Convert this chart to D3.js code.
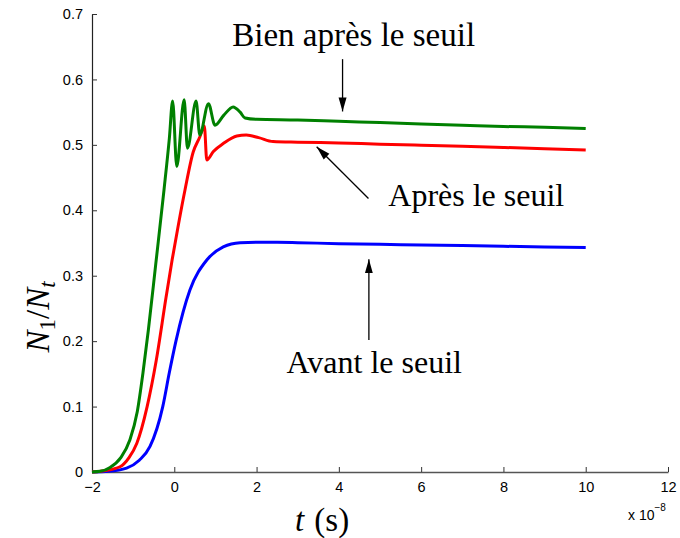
<!DOCTYPE html>
<html>
<head>
<meta charset="utf-8">
<script src="https://cdn.jsdelivr.net/npm/d3@7"></script>
<style>
  html, body { margin: 0; padding: 0; background: #fff; }
  svg { display: block; }
</style>
</head>
<body>
<div id="chart"></div>
<script>
// ---- data (time in units of 1e-8 s) ----
const greenT = [-2, -1.8, -1.56, -1.3, -1.08, -0.9, -0.76, -0.63, -0.45, -0.25, -0.12, -0.04, 0.06, 0.24, 0.32, 0.53, 0.62, 0.83, 0.99, 1.2, 1.43, 1.6, 1.72, 2.0, 3, 4, 5, 6, 7, 8, 9, 10];
const greenV = [0, 0.001, 0.007, 0.022, 0.049, 0.092, 0.152, 0.217, 0.318, 0.431, 0.51, 0.567, 0.467, 0.569, 0.495, 0.567, 0.515, 0.563, 0.530, 0.545, 0.558, 0.55, 0.541, 0.539, 0.538, 0.536, 0.534, 0.532, 0.530, 0.528, 0.527, 0.525];

const redT = [-2, -1.7, -1.32, -1.1, -0.91, -0.66, -0.44, -0.2, -0.05, 0.1, 0.26, 0.46, 0.62, 0.73, 0.79, 0.95, 1.19, 1.52, 1.75, 2.05, 2.4, 3, 4, 5, 6, 7, 8, 9, 10];
const redV = [0, 0.002, 0.008, 0.022, 0.044, 0.1, 0.17, 0.267, 0.325, 0.378, 0.431, 0.489, 0.512, 0.529, 0.477, 0.49, 0.502, 0.5135, 0.515, 0.511, 0.505, 0.504, 0.503, 0.501, 0.4995, 0.498, 0.496, 0.494, 0.492];

const blueT = [-2, -1.6, -1.16, -0.85, -0.59, -0.28, -0.12, 0.04, 0.38, 0.79, 1.19, 1.6, 2, 2.5, 3, 4, 5, 6, 7, 8, 9, 10];
const blueV = [0, 0.001, 0.006, 0.018, 0.039, 0.1, 0.152, 0.2, 0.278, 0.324, 0.344, 0.3505, 0.351, 0.351, 0.3505, 0.349, 0.348, 0.347, 0.346, 0.345, 0.344, 0.343];

const xTicks = [-2, 0, 2, 4, 6, 8, 10, 12];
const yTicks = [0, 0.1, 0.2, 0.3, 0.4, 0.5, 0.6, 0.7];

const seriesNames = ["Bien après le seuil", "Après le seuil", "Avant le seuil"];
// annotation: label centre/baseline and arrow start -> tip, in data coordinates
const annLabelT = [4.36, 7.34, 4.86];
const annLabelV = [0.651, 0.4065, 0.151];
const annFromT = [4.09, 4.72, 4.73];
const annFromV = [0.631, 0.418, 0.2017];
const annToT = [4.09, 3.46, 4.73];
const annToV = [0.551, 0.497, 0.325];

// ---- layout ----
const W = 680, H = 538;
const margin = {left: 92, right: 12, top: 14, bottom: 66};

const svg = d3.select("#chart").append("svg").attr("width", W).attr("height", H);

const x = d3.scaleLinear().domain([-2, 12]).range([margin.left, W - margin.right]);
const y = d3.scaleLinear().domain([0, 0.7]).range([H - margin.bottom, margin.top]);

// axes
const xAxis = d3.axisBottom(x).tickValues(xTicks).tickSizeInner(-5).tickSizeOuter(0).tickPadding(10)
  .tickFormat(d3.format("d"));
const yAxis = d3.axisLeft(y).tickValues(yTicks).tickSizeInner(-5).tickSizeOuter(0).tickPadding(9)
  .tickFormat(d => d === 0 ? "0" : d3.format(".1f")(d));

const gx = svg.append("g").attr("transform", `translate(0,${H - margin.bottom})`).call(xAxis);
const gy = svg.append("g").attr("transform", `translate(${margin.left},0)`).call(yAxis);
[gx, gy].forEach(g => {
  g.selectAll("text").attr("font-family", "Liberation Sans, Arial, sans-serif").attr("font-size", 14.5).attr("fill", "#000");
  g.selectAll("line").attr("stroke", "#333");
});
gx.select(".domain").attr("stroke", "#555").attr("stroke-width", 1.4);
gy.select(".domain").attr("stroke", "#222").attr("stroke-width", 1.2);

// lines
const line = d3.line().x(d => x(d[0])).y(d => y(d[1])).curve(d3.curveMonotoneX);
const series = [
  {t: blueT, v: blueV, color: "#0000ff"},
  {t: redT, v: redV, color: "#ff0000"},
  {t: greenT, v: greenV, color: "#008000"}
];
series.forEach(s => {
  svg.append("path")
    .datum(d3.zip(s.t, s.v))
    .attr("d", line)
    .attr("fill", "none")
    .attr("stroke", s.color)
    .attr("stroke-width", 3)
    .attr("stroke-linejoin", "round");
});

// arrow marker
svg.append("defs").append("marker")
  .attr("id", "arrow").attr("viewBox", "0 0 14 10")
  .attr("refX", 14).attr("refY", 5)
  .attr("markerWidth", 14).attr("markerHeight", 10)
  .attr("markerUnits", "userSpaceOnUse")
  .attr("orient", "auto")
  .append("path").attr("d", "M0,1 L14,5 L0,9 Z").attr("fill", "#000");

seriesNames.forEach((name, i) => {
  svg.append("line")
    .attr("x1", x(annFromT[i])).attr("y1", y(annFromV[i]))
    .attr("x2", x(annToT[i])).attr("y2", y(annToV[i]))
    .attr("stroke", "#000").attr("stroke-width", 1.3)
    .attr("marker-end", "url(#arrow)");
  svg.append("text")
    .attr("x", x(annLabelT[i])).attr("y", y(annLabelV[i]))
    .attr("text-anchor", "middle")
    .attr("font-family", "Liberation Serif, Times New Roman, serif")
    .attr("font-size", i === 0 ? 33 : 32)
    .attr("fill", "#000")
    .text(name);
});

// x axis label "t (s)"
const xl = svg.append("text")
  .attr("x", 322).attr("y", 531)
  .attr("text-anchor", "middle")
  .attr("font-family", "Liberation Serif, Times New Roman, serif")
  .attr("font-size", 33).attr("fill", "#000");
xl.append("tspan").attr("font-style", "italic").text("t");
xl.append("tspan").attr("dx", 2).text("\u00a0(s)");

// exponent "x 10^-8"
const ex = svg.append("text")
  .attr("x", 628).attr("y", 520)
  .attr("font-family", "Liberation Sans, Arial, sans-serif")
  .attr("font-size", 14).attr("fill", "#000");
ex.append("tspan").text("x 10");
ex.append("tspan").attr("font-size", 10).attr("dy", -9).text("\u22128");

// y axis label N_1/N_t
const yl = svg.append("text")
  .attr("transform", "translate(49,317) rotate(-90)")
  .attr("text-anchor", "middle")
  .attr("font-family", "Liberation Serif, Times New Roman, serif")
  .attr("font-size", 33).attr("fill", "#000");
yl.append("tspan").attr("font-style", "italic").text("N");
yl.append("tspan").attr("font-size", 23).attr("dy", 6).text("1");
yl.append("tspan").attr("dy", -6).text("/");
yl.append("tspan").attr("font-style", "italic").text("N");
yl.append("tspan").attr("font-size", 23).attr("font-style", "italic").attr("dy", 6).text("t");
</script>
</body>
</html>
